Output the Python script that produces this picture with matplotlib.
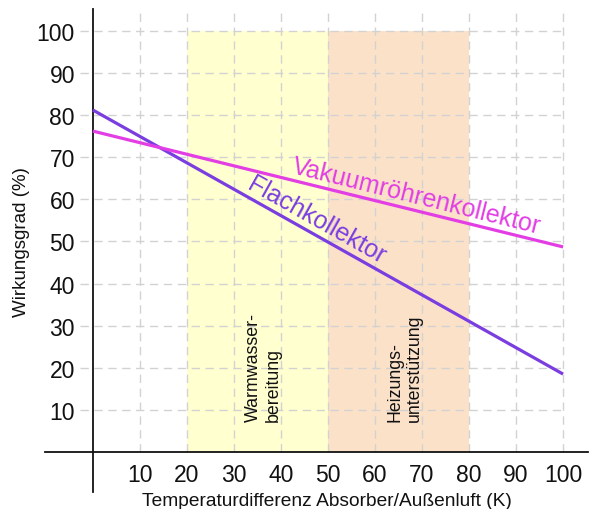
import numpy as np
import matplotlib
matplotlib.use("Agg")
import matplotlib.pyplot as plt

plt.rcParams['font.family'] = ['Liberation Sans', 'DejaVu Sans']

# Data
x_ends = [0, 100]
flach = [81.2, 18.5]
vakuum = [76.2, 48.7]
x_ticks = [10, 20, 30, 40, 50, 60, 70, 80, 90, 100]
y_ticks = [10, 20, 30, 40, 50, 60, 70, 80, 90, 100]
zones = [(20, 50, "Warmwasser-\nbereitung", "#FFFFCF"),
         (50, 80, "Heizungs-\nunterstützung", "#FCE1C9")]

c_flach = "#7A3EE0"
c_vak = "#E23EE4"

fig = plt.figure(figsize=(5.9, 5.1), dpi=100)
ax = fig.add_axes([45/590, 17/510, 543/590, 483/510])
ax.set_xlim(-10.2, 105.3)
ax.set_ylim(-9.5, 105.2)

for s in ['top', 'right']:
    ax.spines[s].set_visible(False)
ax.spines['left'].set_position(('data', 0))
ax.spines['bottom'].set_position(('data', 0))
for s in ['left', 'bottom']:
    ax.spines[s].set_linewidth(1.3)
    ax.spines[s].set_color('#111111')

# zones
for x0, x1, lab, col in zones:
    ax.fill_between([x0, x1], 0, 100, color=col, lw=0, zorder=0)
    ax.text((x0 + x1) / 2 + 1.3, 7.4, lab, rotation=90, ha='center', va='bottom',
            multialignment='left', fontsize=12.8, color='#111111', zorder=3)

# grid
ax.hlines(y_ticks, -2.8, 100, colors='#D2D2D2', linestyles=(0, (6, 4)), lw=1, zorder=1)
ax.vlines(x_ticks, 0, 104.7, colors='#D2D2D2', linestyles=(0, (6, 4)), lw=1, zorder=1)

ax.plot(x_ends, flach, color=c_flach, lw=2.3, zorder=4, solid_capstyle='butt')
ax.plot(x_ends, vakuum, color=c_vak, lw=2.3, zorder=4, solid_capstyle='butt')

ax.set_xticks(x_ticks)
ax.set_yticks(y_ticks)
ax.tick_params(axis='both', length=0, labelsize=16.5, colors='#111111')
ax.tick_params(axis='y', pad=13)
ax.tick_params(axis='x', pad=8)

fig.canvas.draw()

def angle(xs, ys):
    p = ax.transData.transform(np.column_stack([xs, ys]))
    return np.degrees(np.arctan2(p[1, 1] - p[0, 1], p[1, 0] - p[0, 0]))

ax.text(68.9, 60.8, "Vakuumröhrenkollektor", rotation=angle(x_ends, vakuum),
        rotation_mode='anchor', ha='center', va='center', fontsize=18, color=c_vak, zorder=5)
ax.text(47.6, 55.3, "Flachkollektor", rotation=angle(x_ends, flach),
        rotation_mode='anchor', ha='center', va='center', fontsize=18, color=c_flach, zorder=5)

fig.text(22/590, 1 - 242/510, "Wirkungsgrad (%)", rotation=90, ha='center', va='center',
         fontsize=13.5, color='#111111')
fig.text(327/590, 1 - 502/510, "Temperaturdifferenz Absorber/Außenluft (K)", ha='center',
         va='center', fontsize=13.8, color='#111111')

fig.savefig("out.png", dpi=100)
